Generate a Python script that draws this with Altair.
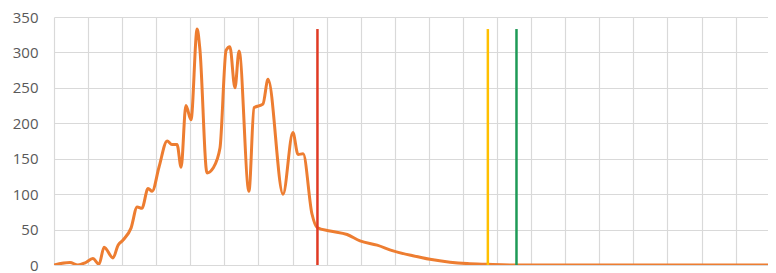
import altair as alt
import pandas as pd

# Curve (x in grid units: one vertical gridline every 10)
xs = [0, 4.7, 7.0, 9.1, 11.4, 13.2, 14.7, 17.3, 18.8, 20.2, 22.6, 24.4, 25.8, 27.6, 28.8,
      30.8, 33.2, 34.6, 36.1, 37.3, 38.7, 40.2, 42.0, 42.8, 44.9, 46.7, 48.7, 50.5, 51.6,
      53.1, 54.3, 57.2, 58.7, 61.3, 62.8, 67.2, 70.1, 71.6, 73.1, 75.7, 77.2, 81.0, 86.0,
      89.8, 94.8, 99.5, 105.3, 110.3, 116.2, 121.2, 127.1, 136.0, 211.85]
ys = [0, 3.5, 0, 3, 9, 1, 25, 10, 28, 35, 52, 82, 80, 108, 104,
      138, 175, 170, 170, 138, 225, 205, 333, 305, 130, 137, 165, 303, 308,
      250, 302, 104, 222, 227, 262, 100, 187, 156, 157, 72, 53, 48, 43,
      34, 28, 20, 13, 8, 4, 2, 1, 0, 0]

# Vertical marker lines
marker_names = ["red", "yellow", "green"]
marker_x = [77.3, 127.3, 135.7]
marker_top = [333, 333, 333]

y_ticks = [0, 50, 100, 150, 200, 250, 300, 350]
x_grid = list(range(0, 220, 10))

line_df = pd.DataFrame({"x": xs, "y": ys})
rule_df = pd.DataFrame({"name": marker_names, "x": marker_x, "top": marker_top,
                        "bottom": [0] * len(marker_x)})

# plot is 714 px wide at 3.408 px per unit
x_scale = alt.Scale(domain=[0, 209.5], nice=False, zero=False)
y_scale = alt.Scale(domain=[0, 350], nice=False)
x_axis = alt.Axis(values=x_grid, labels=False, ticks=False, domain=False,
                  title=None, grid=True, gridColor="#D9D9D9", gridWidth=1.2)
y_axis = alt.Axis(values=y_ticks, ticks=False, domain=False, title=None,
                  grid=True, gridColor="#D9D9D9", gridWidth=1.2,
                  labelPadding=16, labelFontSize=15, labelColor="#595959",
                  labelFont="Open Sans", labelOverlap=False)

line = alt.Chart(line_df).mark_line(
    color="#ED7D31", strokeWidth=3, interpolate="monotone", clip=True
).encode(
    x=alt.X("x:Q", scale=x_scale, axis=x_axis),
    y=alt.Y("y:Q", scale=y_scale, axis=y_axis),
)

rules = alt.Chart(rule_df).mark_rule(strokeWidth=2.5).encode(
    x=alt.X("x:Q", scale=x_scale, axis=x_axis),
    y=alt.Y("top:Q", scale=y_scale, axis=y_axis),
    y2="bottom:Q",
    color=alt.Color("name:N", legend=None,
                    scale=alt.Scale(domain=marker_names,
                                    range=["#E03A24", "#FFC000", "#1E9A57"])),
)

chart = alt.layer(line, rules).properties(
    width=714, height=248,
    autosize=alt.AutoSizeParams(type="none"),
    padding={"left": 46, "top": 9, "right": 0, "bottom": 8},
).configure_view(stroke=None)

chart.save("out.html", embed_options={"renderer": "svg", "actions": False})
